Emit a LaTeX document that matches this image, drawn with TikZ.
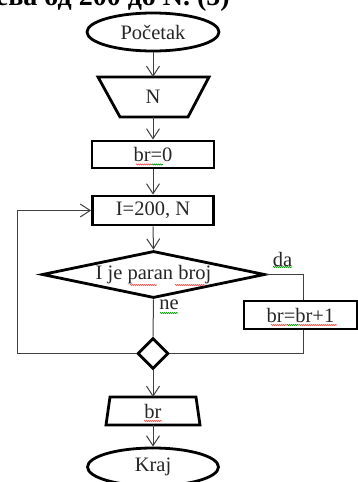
\documentclass[tikz,border=0pt]{standalone}
\usepackage{fontspec}
\setmainfont{Liberation Serif}
\usetikzlibrary{arrows.meta,shapes.geometric,decorations.pathmorphing}
\begin{document}
\begin{tikzpicture}[x=1pt,y=-1pt,
  shp/.style={draw=black,line width=2.8pt},
  txt/.style={font=\fontsize{20.5}{24}\selectfont,text=black!85},
  conn/.style={draw=black!75,line width=1pt},
  arr/.style={conn,-{Straight Barb[length=10pt,width=13pt,line width=1pt]}},
  squr/.style={draw=red!70,line width=0.6pt,decorate,decoration={snake,amplitude=0.6pt,segment length=2pt}},
  squg/.style={squr,draw=green!60!black},
]
\useasboundingbox (0,0) rectangle (358,482);
\clip (0,0) rectangle (358,482);

% title (cut off at top)
\node[anchor=base east,inner sep=0pt,font=\bfseries\fontsize{28}{30}\selectfont] (title) at (230,5) {јева од 200 до N. (5)};

% shapes
\node[shp,ellipse,minimum width=132pt,minimum height=38pt,inner sep=0pt,txt] (start) at (153,32) {Početak};

\draw[shp,line join=miter] (98,77) -- (209,77) -- (188,117) -- (120,117) -- cycle;
\coordinate (Ntop) at (153,77);
\coordinate (Nbot) at (153,117);
\node[txt] (Ntxt) at (153,97) {N};

\node[shp,rectangle,minimum width=122pt,minimum height=27pt,inner sep=0pt,txt] (br0) at (153,154.5) {br=0};
\node[shp,rectangle,minimum width=121pt,minimum height=29pt,inner sep=0pt,txt] (I) at (153,210.5) {I=200, N};
\node[shp,diamond,aspect=4.7,minimum width=223pt,minimum height=47pt,inner sep=0pt,txt] (dec) at (153.5,274.5) {I je paran broj};
\node[shp,rectangle,minimum width=113pt,minimum height=28pt,inner sep=0pt,txt] (brinc) at (300.5,315) {br=br+1};
\node[shp,diamond,minimum width=31pt,minimum height=31pt,inner sep=0pt] (merge) at (153,353.5) {};

\draw[shp,line join=miter] (110,397) -- (196,397) -- (200,425) -- (106,425) -- cycle;
\coordinate (outtop) at (153,397);
\coordinate (outbot) at (153,425);
\node[txt] (outtxt) at (153,411) {br};

\node[shp,ellipse,minimum width=131pt,minimum height=38pt,inner sep=0pt,txt] (end) at (153,467) {Kraj};

% labels
\node[txt] (da) at (282.5,259) {da};
\node[txt] (ne) at (169,305) {ne};

% connectors
\coordinate (daX) at (303,274.5);
\coordinate (loopL) at (17,353.5);
\draw[arr] (start.south) -- (Ntop);
\draw[arr] (Nbot) -- (br0.north);
\draw[arr] (br0.south) -- (I.north);
\draw[arr] (I.south) -- (dec.north);
\draw[conn] (dec.east) -- (daX) -- (brinc.north -| daX);
\draw[conn] (brinc.south -| daX) -- (daX |- merge.east) -- (merge.east);
\draw[conn] (dec.south) -- (merge.north);
\draw[arr] (merge.west) -- (loopL) -- (loopL |- I.west) -- (I.west);
\draw[arr] (merge.south) -- (outtop);
\draw[arr] (outbot) -- (end.north);

% spell-check squiggles
\draw[squr] (136,164.5) -- (152,164.5);
\draw[squg] (152,164.5) -- (163,164.5);
\draw[squr] (130,285) -- (157,285);
\draw[squr] (175,285) -- (205,285);
\draw[squg] (273,267) -- (292,267);
\draw[squg] (160,313) -- (178,313);
\draw[squr] (271,325) -- (287,325);
\draw[squg] (287,325) -- (299,325);
\draw[squr] (299,325) -- (337,325);
\draw[squr] (144,421) -- (162,421);
\end{tikzpicture}
\end{document}
